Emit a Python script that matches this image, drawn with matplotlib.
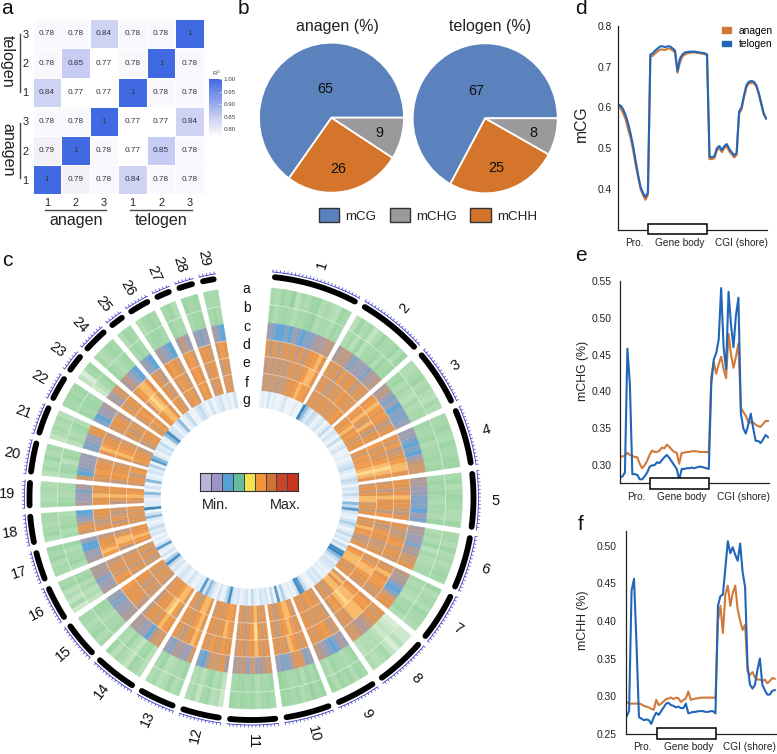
import matplotlib
matplotlib.use("Agg")
import matplotlib.pyplot as plt
import numpy as np
from matplotlib.colors import LinearSegmentedColormap, ListedColormap
from matplotlib.patches import Patch, Rectangle

plt.rcParams["font.family"] = ["Liberation Sans", "DejaVu Sans"]

W, H = 777, 754

# a) correlation matrix, bottom row first
sample_labels = ["1", "2", "3", "1", "2", "3"]
r2 = [[1, .79, .78, .84, .78, .78],
      [.79, 1, .78, .77, .85, .78],
      [.78, .78, 1, .77, .77, .84],
      [.84, .77, .77, 1, .78, .78],
      [.78, .85, .77, .78, 1, .78],
      [.78, .78, .84, .78, .78, 1]]
r2_ticks = [.80, .85, .90, .95, 1.00]

# b) pies
pie_names = ["mCG", "mCHH", "mCHG"]
pie_anagen = [65, 26, 9]
pie_telogen = [67, 25, 8]

# c) circos, spans of the chromosomes in degrees
chr_span = [23, 17.7, 15.3, 15.2, 15, 14.4, 13.3, 14, 11.1, 12.5, 13, 10.7, 10.1, 11.8, 10,
            9.5, 8.2, 7.9, 7.1, 8.7, 8, 6.9, 5.4, 7.2, 4.4, 6.1, 4.5, 4.7, 4.1]

# one string per chromosome, one digit per stripe, 0-9 on the track colour scale
track_a = ["6576846577565476", "475635766757", "5567565465", "6676576677", "6756766557",
           "6657565676", "756657665", "224136545", "67576757", "768657677", "676576767",
           "25476365", "6575465", "46735647", "6576566", "2635476", "665767", "576566",
           "65565", "465756", "356564", "66767", "3167", "65676", "576", "5676", "675", "767", "666"]
track_b = ["7567656678566576", "564746675767", "6756546566", "7667566767", "6767656657",
           "5657465566", "656546675", "123245554", "76566756", "767576678", "766576776",
           "36576465", "7665476", "47635756", "7665677", "3546576", "576657", "657665",
           "76566", "576476", "465675", "76776", "2467", "76567", "676", "6776", "766", "677", "676"]
track_c = ["2100102101123344", "344312221334", "3421201112", "2210102455", "3322111021",
           "3322133556", "433101566", "656543455", "23101234", "215652112", "543252443",
           "36555301", "5223312", "55402233", "3322112", "3221333", "322002", "565210",
           "32213", "501222", "112266", "10223", "3255", "34210", "210", "3210", "342", "212", "310"]
track_d = ["6464565646466786", "656475664565", "6787676456", "6574567886", "6656866546",
           "6545675665", "568677655", "677888565", "54676656", "656785656", "656866465",
           "66756756", "7866456", "67865664", "4566667", "6755654", "787664", "654566",
           "66866", "567665", "687664", "56664", "6566", "67886", "654", "6765", "675", "665", "576"]
track_e = ["4545454565567886", "565456576656", "7686586466", "7565678986", "5646866647",
           "6457664556", "657887665", "678898675", "46565566", "657876546", "656976465",
           "67866566", "6876566", "57986664", "5464566", "5646564", "478864", "646545",
           "46866", "467665", "687665", "56465", "5676", "58986", "655", "5765", "676", "566", "465"]
track_f = ["4545445466678776", "656566565676", "6678676566", "6576778986", "5656885656",
           "6568674456", "678886566", "586886465", "56676566", "568876456", "656865546",
           "67765665", "6886456", "68876665", "4656556", "5456465", "678766", "565656",
           "56876", "566476", "576664", "45666", "6576", "67886", "665", "5675", "676", "556", "565"]
track_g = ["1213121123111211", "964243123124", "1321412311", "2123421243", "1324216473",
           "2135312423", "142896423", "321213231", "12478312", "125271413", "231241321",
           "32385213", "1246372", "21231232", "1324851", "3127312", "132421", "263192",
           "21361", "316213", "251762", "13241", "2683", "31361", "241", "1342", "131", "231", "213"]
chr_labels = [str(i + 1) for i in range(29)]
track_letters = ["a", "b", "c", "d", "e", "f", "g"]
key_colors = ["#b9b5da", "#9d94c8", "#55a0d5", "#66bb9c", "#f3e14f", "#f2953a", "#cf7339", "#c8452b", "#c8351f"]

# d,e,f) profiles over 61 bins
mcg_anagen = [.603, .597, .585, .57, .545, .525, .495, .46, .43, .40, .385, .373, .385,
              .725, .727, .733, .738, .742, .742, .741, .744, .745, .74, .735, .685, .71, .725, .73, .733, .734,
              .735, .735, .734, .733, .732, .731, .728,
              .473, .473, .475, .495, .50, .49, .50, .505, .492, .485, .477, .483,
              .585, .595, .625, .65, .659, .66, .659, .651, .632, .607, .583, .572]
mcg_telogen = [.607, .604, .595, .58, .56, .535, .505, .47, .435, .405, .39, .38, .39,
               .73, .733, .74, .745, .75, .75, .748, .75, .75, .745, .74, .69, .72, .73, .735, .736, .737,
               .737, .737, .736, .735, .734, .733, .73,
               .478, .478, .48, .50, .505, .495, .505, .51, .498, .49, .482, .488,
               .59, .60, .63, .655, .663, .665, .663, .655, .635, .61, .585, .573]
mchg_anagen = [.312, .312, .313, .317, .314, .313, .311, .311, .302, .296, .30, .306, .314,
               .32, .318, .318, .32, .324, .323, .328, .325, .321, .318, .317, .302, .317, .317, .318, .318, .319,
               .319, .319, .318, .318, .318, .318, .317,
               .42, .44, .424, .437, .447, .43, .418, .478, .45, .432, .447, .465,
               .378, .372, .367, .358, .358, .358, .355, .353, .352, .356, .36, .36]
mchg_telogen = [.283, .285, .29, .458, .41, .288, .288, .287, .281, .281, .285, .29, .298,
                .30, .30, .304, .303, .307, .311, .314, .31, .305, .30, .295, .28, .295, .295, .296, .296, .297,
                .296, .297, .298, .298, .297, .296, .295,
                .41, .443, .452, .47, .54, .46, .43, .535, .49, .46, .503, .527,
                .37, .35, .343, .355, .37, .35, .333, .333, .33, .335, .341, .338]
mchh_anagen = [.292, .29, .29, .29, .29, .29, .289, .287, .286, .285, .283, .282, .295,
               .288, .29, .293, .296, .297, .298, .296, .298, .297, .292, .295, .297, .306, .295, .296, .297, .297,
               .298, .298, .298, .298, .298, .298, .297,
               .40, .42, .384, .435, .447, .42, .437, .447, .415, .40, .388, .395,
               .333, .328, .332, .325, .322, .322, .32, .322, .317, .32, .324, .323]
mchh_telogen = [.273, .28, .44, .456, .37, .272, .27, .268, .269, .268, .263, .272, .278,
                .275, .28, .285, .29, .291, .288, .287, .285, .286, .284, .284, .29, .277, .278, .279, .279, .28,
                .28, .28, .279, .279, .28, .28, .277,
                .42, .433, .435, .47, .506, .49, .498, .488, .48, .503, .465, .445,
                .34, .315, .31, .315, .335, .35, .315, .308, .302, .302, .307, .308]
region_labels = ["Pro.", "Gene body", "CGI (shore)"]

ORANGE = "#d2793a"
BLUE = "#2166b8"
DARK = "#222222"


def px_axes(x0, y0, x1, y1, **kw):
    # axes from picture pixels, y going down
    return fig.add_axes([x0 / W, 1 - y1 / H, (x1 - x0) / W, (y1 - y0) / H], **kw)


def px_text(x, y, s, **kw):
    kw.setdefault("ha", "center")
    kw.setdefault("va", "center")
    return fig.text(x / W, 1 - y / H, s, **kw)


fig = plt.figure(figsize=(W / 100, H / 100), dpi=100)

for letter, x, y in [("a", 7, 9), ("b", 243, 8), ("c", 7, 260), ("d", 581, 8), ("e", 581, 256), ("f", 581, 525)]:
    px_text(x, y, letter, fontsize=15, color="#111111")

# a) heatmap
cmap_r2 = LinearSegmentedColormap.from_list("r2", [(0, "#ffffff"), (.05, "#f8f8fd"), (.09, "#f0f0f6"), (.35, "#c6ccf3"), (1, "#4169e1")])
axa = px_axes(32.7, 19.3, 204, 194.3)
mesh = axa.pcolormesh(np.array(r2), cmap=cmap_r2, vmin=.77, vmax=1, edgecolors="white", linewidth=.4)
for i, row in enumerate(r2):
    for j, v in enumerate(row):
        axa.text(j + .5, i + .5, "1" if v == 1 else "%.2f" % v, ha="center", va="center", fontsize=5.9, color="#333344")
axa.set_xticks(np.arange(6) + .5, sample_labels, fontsize=7.8)
axa.set_yticks(np.arange(6) + .5, sample_labels, fontsize=7.8)
axa.tick_params(length=0, pad=2.5, colors=DARK)
axa.tick_params(axis="y", pad=3)
for s in axa.spines.values():
    s.set_visible(False)

fig.add_artist(plt.Line2D([45 / W, 106 / W], [1 - 210 / H] * 2, color="#444455", lw=1))
fig.add_artist(plt.Line2D([130 / W, 191.7 / W], [1 - 210 / H] * 2, color="#444455", lw=1))
fig.add_artist(plt.Line2D([20 / W] * 2, [1 - 34 / H, 1 - 91.7 / H], color="#444455", lw=1))
fig.add_artist(plt.Line2D([20 / W] * 2, [1 - 123 / H, 1 - 178 / H], color="#444455", lw=1))
px_text(76, 220.5, "anagen", fontsize=11.6, color=DARK)
px_text(161, 220.5, "telogen", fontsize=11.6, color=DARK)
px_text(7.5, 61.7, "telogen", fontsize=11.6, rotation=-90, color=DARK)
px_text(7.5, 150, "anagen", fontsize=11.6, rotation=-90, color=DARK)

cax = px_axes(209.3, 79, 221.7, 136.7)
cb = fig.colorbar(mesh, cax=cax, ticks=r2_ticks)
cb.ax.set_yticklabels(["%.2f" % t for t in r2_ticks], fontsize=4.5, color="#444444")
cb.ax.tick_params(length=2, width=.4, color="white", direction="in", pad=1.5)
cb.outline.set_visible(False)
px_text(216.7, 73, "R$^2$", fontsize=4.5, color="#444444")

# b) pies
pie_colors = ["#5b82bd", "#d4752b", "#9a9a9c"]
pie_boxes = [(259, 42.7, 404, 192.7), (412.7, 43.3, 557.7, 193.3)]
pie_pos = [[(-.09, .38), (.09, -.68), (.66, -.2)], [(-.13, .36), (.15, -.66), (.67, -.19)]]
for vals, box, pos, name, tx in zip([pie_anagen, pie_telogen], pie_boxes, pie_pos, ["anagen (%)", "telogen (%)"], [337, 490]):
    axp = px_axes(*box)
    axp.pie(vals, colors=pie_colors, startangle=0, counterclock=True, wedgeprops=dict(edgecolor="white", linewidth=1.3))
    axp.set_aspect("auto")
    axp.set_xlim(-1, 1)
    axp.set_ylim(-1, 1)
    for v, (x, y) in zip(vals, pos):
        axp.text(x, y, str(v), ha="center", va="center", fontsize=10.4, color="#111111")
    px_text(tx, 26, name, fontsize=11.5, color=DARK)

handles = [Patch(facecolor=pie_colors[i], edgecolor="#333333", linewidth=1) for i in [0, 2, 1]]
fig.legend(handles, [pie_names[i] for i in [0, 2, 1]], loc="center", bbox_to_anchor=(428 / W, 1 - 215.5 / H),
           ncol=3, frameon=False, fontsize=9.6, handlelength=1.55, handleheight=1.27, handletextpad=.45,
           columnspacing=1.0, borderpad=0, labelcolor=DARK)

# c) circos
green = LinearSegmentedColormap.from_list("g", ["#e3f2df", "#c0e3c0", "#a6d8ab", "#8fcf98"])
mix = LinearSegmentedColormap.from_list("m", ["#5fa5d6", "#84a3c4", "#a09fb3", "#ae9b9b", "#bf9a82",
                                              "#d09a6c", "#e39651", "#f09a4a", "#f8b968", "#fcd88a"])
blues = LinearSegmentedColormap.from_list("b", ["#f7fafd", "#e3eff8", "#c9dff0", "#a7cbe6", "#4f97c9", "#3a86bd"])
tracks = [(track_a, 194.5, 211, green), (track_b, 176, 193.7, green), (track_c, 159.5, 176, mix),
          (track_d, 142.5, 158.7, mix), (track_e, 125.5, 141.7, mix), (track_f, 107.5, 124.7, mix),
          (track_g, 91, 107.5, blues)]

axc = fig.add_axes([(251.5 - 250) / W, 1 - 748 / H, 500 / W, 500 / H], projection="polar")
axc.set_theta_zero_location("N")
axc.set_theta_direction(-1)
axc.set_rlim(0, 250)
axc.axis("off")
axc.patch.set_alpha(0)

gap = 1.63
start = 5.4
for k, span in enumerate(chr_span):
    t0, t1 = start, start + span
    for track, r0, r1, cm in tracks:
        digits = [int(c) for c in track[k]]
        edges = np.linspace(t0, t1, len(digits) + 1)
        cols = cm(np.array(digits) / 9)
        # track g runs on through the gaps
        if track is track_g:
            edges = np.linspace(t0 - gap / 2, t1 + gap / 2, len(digits) + 1)
        axc.bar(np.radians(edges[:-1]), r1 - r0, width=np.radians(np.diff(edges)), bottom=r0, align="edge",
                color=cols, edgecolor=cols, linewidth=.25)
    arc = np.radians(np.linspace(t0 + .65, t1 - .65, 40))
    axc.plot(arc, np.full(40, 222), color="black", lw=4.2, solid_capstyle="round")
    arc2 = np.radians(np.linspace(t0, t1, 40))
    axc.plot(arc2, np.full(40, 227), color="#3a3acb", lw=.6)
    tk = np.radians(np.arange(t0, t1 + .01, .95))
    axc.vlines(tk, 227, 229.5, color="#3a3acb", lw=.5)
    mid = (t0 + t1) / 2
    rot = 90 - mid if mid < 180 else 270 - mid
    axc.text(np.radians(mid), 244, chr_labels[k], rotation=rot, rotation_mode="anchor", ha="center", va="center",
             fontsize=10.5, color="#111111")
    start = t1 + gap

for letter, y in zip(track_letters, [289.3, 308, 327, 345, 363, 383, 400]):
    px_text(246.5, y, letter, fontsize=10, color="#111111")

axk = px_axes(200, 473.3, 298.3, 491)
axk.pcolormesh([np.arange(9)], cmap=ListedColormap(key_colors), edgecolors="#444444", linewidth=.7)
axk.set_xticks([])
axk.set_yticks([])
for s in axk.spines.values():
    s.set_linewidth(.8)
    s.set_color("#333333")
px_text(215, 505, "Min.", fontsize=10.4, color=DARK)
px_text(285, 505, "Max.", fontsize=10.4, color=DARK)

# d,e,f) line plots
panels = [
    ("mCG", mcg_anagen, mcg_telogen, (617.7, 26, 766.7, 229.5), (-.25, 60.2), (.3, .8), [.4, .5, .6, .7, .8], "%.1f", 4, 11.3, (581.7, 124), (12.2, 36.05), (224, 234.3)),
    ("mCHG (%)", mchg_anagen, mchg_telogen, (620, 280.7, 769, 483.3), (0, 60.4), (.2756, .55), [.30, .35, .40, .45, .50, .55], "%.2f", 6, 8.8, (582.7, 370.7), (12.3, 36.2), (477.7, 489)),
    ("mCHH (%)", mchh_anagen, mchh_telogen, (626, 530.7, 775.7, 733.7), (-.25, 60.4), (.25, .52), [.25, .30, .35, .40, .45, .50], "%.2f", 6.5, 8.8, (582.7, 620), (12.4, 36.2), (728.3, 739)),
]
for name, ana, tel, box, xl, yl, yt, fmt, pad, fs, lab, gb, gby in panels:
    ax = px_axes(*box)
    ax.plot(ana, color=ORANGE, lw=1.5)
    ax.plot(tel, color=BLUE, lw=1.5)
    ax.set_xlim(*xl)
    ax.set_ylim(*yl)
    ax.set_yticks(yt, [fmt % v for v in yt], fontsize=7.4, color=DARK)
    ax.set_xticks([6.5, 25, 49.9], region_labels, fontsize=7.3, color=DARK)
    ax.tick_params(axis="y", length=0, pad=pad)
    ax.tick_params(axis="x", length=0, pad=6)
    ax.spines["top"].set_visible(False)
    ax.spines["right"].set_visible(False)
    for s in ["left", "bottom"]:
        ax.spines[s].set_linewidth(.9)
        ax.spines[s].set_color(DARK)
    h = box[3] - box[1]
    ax.add_patch(Rectangle((gb[0], (box[3] - gby[1]) / h), gb[1] - gb[0], (gby[1] - gby[0]) / h,
                           transform=ax.get_xaxis_transform(), facecolor="white", edgecolor="black", lw=1.1,
                           clip_on=False, zorder=5))
    px_text(lab[0], lab[1], name, rotation=90, fontsize=fs, color=DARK)
    if name == "mCG":
        ax.legend([Patch(color=ORANGE), Patch(color=BLUE)], ["anagen", "telogen"], loc="upper right",
                  bbox_to_anchor=(1.04, 1.0), frameon=False, fontsize=7.4, handlelength=.9,
                  handleheight=.5, handletextpad=.75, labelspacing=.3, borderpad=0, borderaxespad=0)

fig.savefig("out.png", dpi=100)
